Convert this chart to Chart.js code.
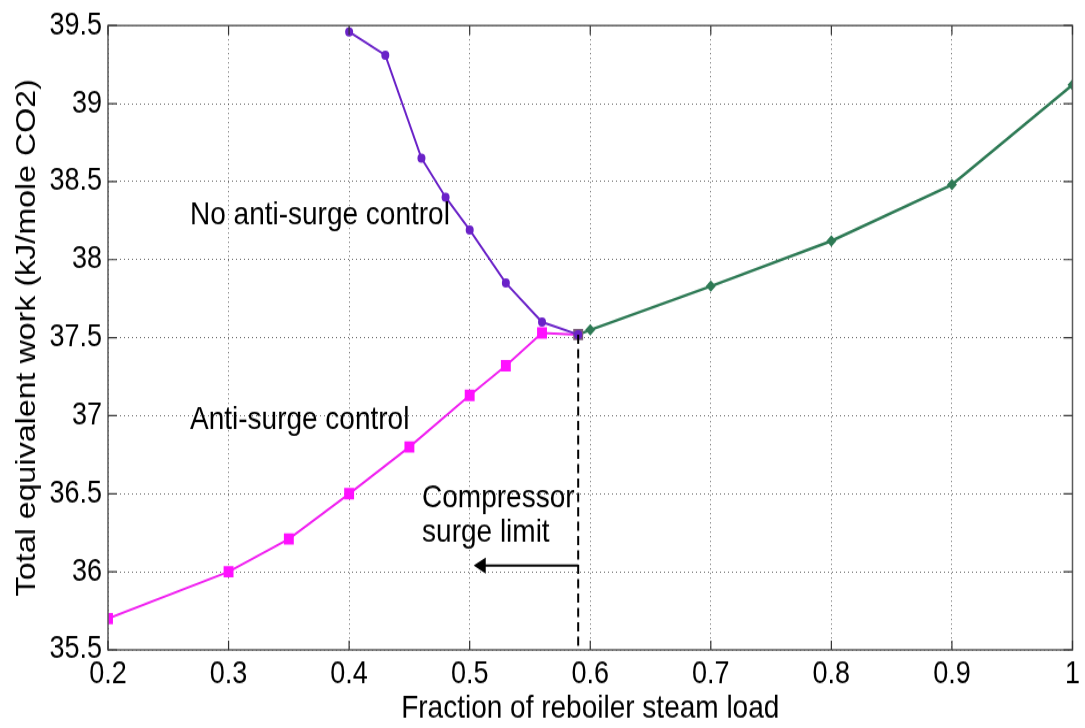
<!DOCTYPE html>
<html lang="en">
  <head>
    <meta charset="UTF-8" />
    <title>Total equivalent work vs reboiler steam load</title>
    <style>
      body {
        margin: 0;
        padding: 0;
        background: #ffffff;
      }
    </style>
    <script src="https://cdn.jsdelivr.net/npm/chart.js"></script>
  </head>
  <body>
    <!-- drawn at 633px high and shown stretched to 728px, like the exported figure -->
    <canvas
      id="workChart"
      width="1085"
      height="633"
      style="display: block; width: 1085px; height: 728px"
    ></canvas>
    <script>
      // No anti-surge control
      const loadNoControl = [0.4, 0.43, 0.46, 0.48, 0.5, 0.53, 0.56, 0.59];
      const workNoControl = [39.46, 39.31, 38.65, 38.4, 38.19, 37.85, 37.6, 37.52];
      // Anti-surge control
      const loadAntiSurge = [0.2, 0.3, 0.35, 0.4, 0.45, 0.5, 0.53, 0.56, 0.59];
      const workAntiSurge = [35.7, 36.0, 36.21, 36.5, 36.8, 37.13, 37.32, 37.53, 37.52];
      // Above the surge limit both cases coincide
      const loadHigh = [0.59, 0.6, 0.7, 0.8, 0.9, 1.0];
      const workHigh = [37.52, 37.55, 37.83, 38.12, 38.48, 39.12];

      const surgeLimit = 0.59;
      const arrowY = 36.04;
      const arrowEnd = 0.51;

      const xTicks = [0.2, 0.3, 0.4, 0.5, 0.6, 0.7, 0.8, 0.9, 1.0];
      const yTicks = [35.5, 36, 36.5, 37, 37.5, 38, 38.5, 39, 39.5];

      const notes = [
        { text: "No anti-surge control", x: 0.268, y: 38.28 },
        { text: "Anti-surge control", x: 0.268, y: 36.97 },
        { text: "Compressor", x: 0.4605, y: 36.47 },
        { text: "surge limit", x: 0.4605, y: 36.25 },
      ];

      const pts = (xs, ys) => xs.map((x, i) => ({ x: x, y: ys[i] }));
      const FONT = "'Liberation Sans', Arial, sans-serif";

      // frame, inward tick marks and text notes in MATLAB style
      const framePlugin = {
        id: "frame",
        afterDraw(chart) {
          const { ctx, chartArea: a, scales } = chart;
          ctx.save();
          ctx.strokeStyle = "#5a5a5a";
          ctx.lineWidth = 1.5;
          ctx.strokeRect(a.left, a.top, a.right - a.left, a.bottom - a.top);
          ctx.lineWidth = 1.2;
          ctx.strokeStyle = "#333";
          ctx.beginPath();
          xTicks.forEach((v) => {
            const px = scales.x.getPixelForValue(v);
            ctx.moveTo(px, a.bottom);
            ctx.lineTo(px, a.bottom - 8);
            ctx.moveTo(px, a.top);
            ctx.lineTo(px, a.top + 8);
          });
          yTicks.forEach((v) => {
            const py = scales.y.getPixelForValue(v);
            ctx.moveTo(a.left, py);
            ctx.lineTo(a.left + 9, py);
            ctx.moveTo(a.right, py);
            ctx.lineTo(a.right - 9, py);
          });
          ctx.stroke();

          ctx.fillStyle = "#000";
          ctx.font = "28px " + FONT;
          ctx.textAlign = "left";
          ctx.textBaseline = "middle";
          notes.forEach((n) => {
            ctx.fillText(
              n.text,
              scales.x.getPixelForValue(n.x),
              scales.y.getPixelForValue(n.y)
            );
          });
          ctx.restore();
        },
      };

      const ctx = document.getElementById("workChart").getContext("2d");
      const chart = new Chart(ctx, {
        type: "scatter",
        data: {
          datasets: [
            {
              label: "limit",
              data: pts([surgeLimit, surgeLimit], [37.52, 35.5]),
              showLine: true,
              borderColor: "#000",
              borderWidth: 2,
              borderDash: [8, 4.5],
              pointRadius: 0,
            },
            {
              label: "arrow",
              data: pts([surgeLimit, arrowEnd], [arrowY, arrowY]),
              showLine: true,
              borderColor: "#000",
              backgroundColor: "#000",
              borderWidth: 2,
              pointStyle: "triangle",
              pointRotation: 270,
              pointRadius: [0, 6],
            },
            {
              label: "No anti-surge control",
              data: pts(loadNoControl, workNoControl),
              showLine: true,
              borderColor: "#6a22c8",
              backgroundColor: "#6a22c8",
              borderWidth: 2,
              pointStyle: "circle",
              pointRadius: 4,
              pointBorderWidth: 0,
            },
            {
              label: "Anti-surge control",
              data: pts(loadAntiSurge, workAntiSurge),
              showLine: true,
              borderColor: "#f01ef0",
              backgroundColor: loadAntiSurge.map((v) =>
                v === surgeLimit ? "#7a5e7a" : "#ff10ff"
              ),
              borderWidth: 2,
              pointStyle: "rect",
              pointRadius: 7,
              pointBorderWidth: 0,
            },
            {
              label: "High load",
              data: pts(loadHigh, workHigh),
              showLine: true,
              borderColor: "#2e7a55",
              backgroundColor: "#2e7a55",
              borderWidth: 2.5,
              pointStyle: "rectRot",
              pointRadius: loadHigh.map((v) => (v === surgeLimit ? 0 : 5)),
              pointBorderWidth: 0,
            },
          ],
        },
        options: {
          responsive: false,
          animation: false,
          layout: { padding: { top: 21, right: 10, left: 0, bottom: 0 } },
          plugins: {
            legend: { display: false },
            tooltip: { enabled: false },
          },
          scales: {
            x: {
              type: "linear",
              min: 0.2,
              max: 1.0,
              afterBuildTicks: (s) => {
                s.ticks = xTicks.map((v) => ({ value: v }));
              },
              afterFit: (s) => {
                s.height = 68;
              },
              ticks: {
                color: "#000",
                padding: 5,
                maxRotation: 0,
                font: { family: FONT, size: 27 },
                callback: (v) => String(v === 1 ? 1 : v),
              },
              grid: {
                color: "rgba(0,0,0,0.6)",
                lineWidth: 1,
                drawTicks: false,
              },
              border: { display: false, dash: [1, 3] },
              title: {
                display: true,
                text: "Fraction of reboiler steam load",
                color: "#000",
                font: { family: FONT, size: 28 },
                padding: { top: 0, bottom: 0 },
              },
            },
            y: {
              type: "linear",
              min: 35.5,
              max: 39.5,
              afterBuildTicks: (s) => {
                s.ticks = yTicks.map((v) => ({ value: v }));
              },
              afterFit: (s) => {
                s.width = 108;
              },
              ticks: {
                color: "#000",
                padding: 6,
                font: { family: FONT, size: 27 },
                callback: (v) => String(v),
              },
              grid: {
                color: "rgba(0,0,0,0.6)",
                lineWidth: 1,
                drawTicks: false,
              },
              border: { display: false, dash: [1, 3] },
              title: {
                display: true,
                text: "Total equivalent work (kJ/mole CO2)",
                color: "#000",
                font: { family: FONT, size: 28 },
                padding: { top: 10, bottom: 0 },
              },
            },
          },
        },
        plugins: [framePlugin],
      });
    </script>
  </body>
</html>
